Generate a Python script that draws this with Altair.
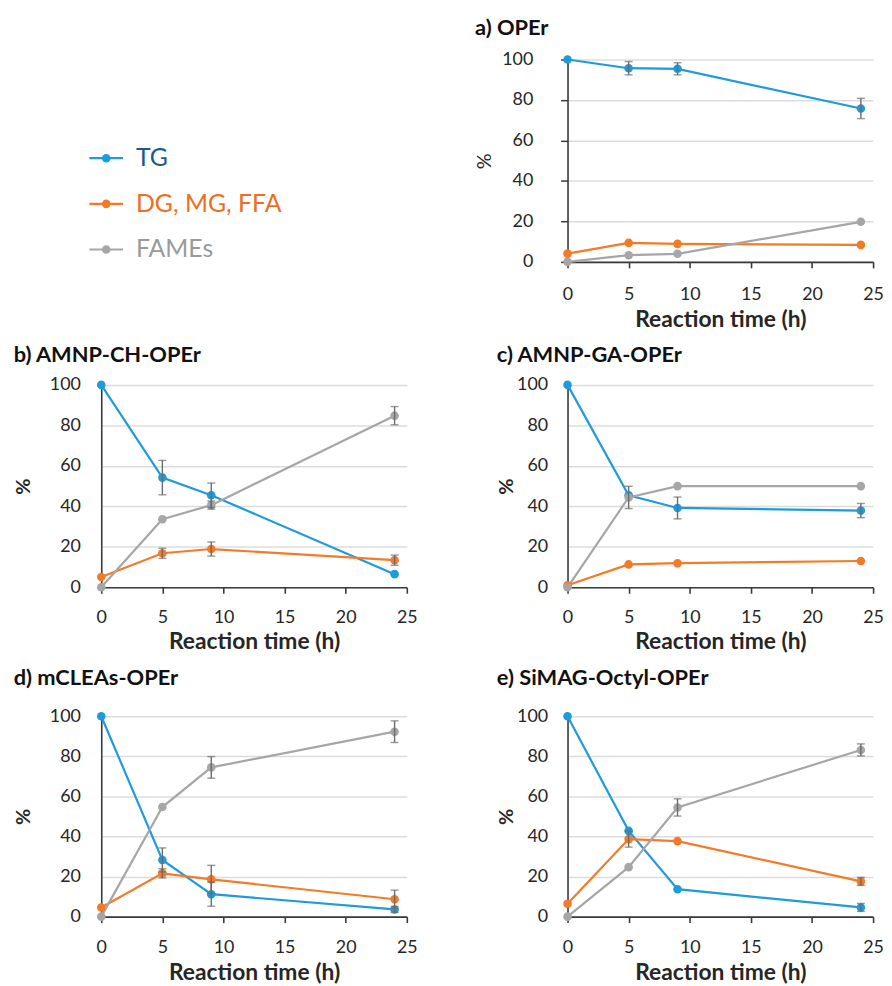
import altair as alt
import pandas as pd

# ---------------- data ----------------
times = [0, 5, 9, 24]
series = ["TG", "DG, MG, FFA", "FAMEs"]
panel_titles = ["a) OPEr", "b) AMNP-CH-OPEr", "c) AMNP-GA-OPEr",
                "d) mCLEAs-OPEr", "e) SiMAG-Octyl-OPEr"]

# a) OPEr
a_tg = [100, 95.7, 95.4, 75.8]
a_tg_err = [0, 3.3, 3.0, 5.0]
a_dg = [4.1, 9.4, 8.9, 8.4]
a_dg_err = [0, 0, 0, 0]
a_fame = [0, 3.3, 4.0, 19.8]
a_fame_err = [0, 0, 0, 0]

# b) AMNP-CH-OPEr
b_tg = [100, 54.2, 45.5, 6.5]
b_tg_err = [0, 8.5, 6.0, 0]
b_dg = [5.1, 16.8, 18.9, 13.4]
b_dg_err = [0, 2.5, 3.5, 2.5]
b_fame = [0, 33.6, 40.6, 84.8]
b_fame_err = [0, 0, 2.0, 4.5]

# c) AMNP-GA-OPEr
c_tg = [100, 45.5, 39.2, 37.9]
c_tg_err = [0, 0, 5.4, 3.5]
c_dg = [1.0, 11.3, 11.9, 13.0]
c_dg_err = [0, 0, 0, 0]
c_fame = [0, 44.4, 50.0, 50.0]
c_fame_err = [0, 5.5, 0, 0]

# d) mCLEAs-OPEr
d_tg = [100, 28.3, 11.2, 3.6]
d_tg_err = [0, 6.0, 6.0, 1.5]
d_dg = [4.6, 21.6, 18.6, 8.7]
d_dg_err = [0, 2.3, 7.0, 4.5]
d_fame = [0, 54.7, 74.5, 92.3]
d_fame_err = [0, 0, 5.4, 5.4]

# e) SiMAG-Octyl-OPEr
e_tg = [100, 42.8, 13.7, 4.6]
e_tg_err = [0, 0, 0, 2.0]
e_dg = [6.4, 38.7, 37.7, 17.6]
e_dg_err = [0, 4.0, 0, 2.0]
e_fame = [0, 24.7, 54.5, 83.2]
e_fame_err = [0, 0, 4.3, 3.0]

x_ticks = [0, 5, 10, 15, 20, 25]
y_ticks = [0, 20, 40, 60, 80, 100]

# ---------------- style ----------------
FONT = "Lato"
line_colors = ["#1E9BDB", "#F57A26", "#A6A6A6"]
legend_text_colors = ["#1A5B8C", "#EC6E1E", "#9A9A9A"]
ERR = "#6B6B6B"
AXIS = "#3A3A3A"
GRID = "#DCDCDC"
TXT = "#262626"


def make_df(tg, tg_e, dg, dg_e, fa, fa_e):
    rows = []
    for name, vals, errs in [(series[0], tg, tg_e), (series[1], dg, dg_e), (series[2], fa, fa_e)]:
        for t, v, e in zip(times, vals, errs):
            rows.append({"time": t, "value": v, "err": e, "series": name,
                         "lo": v - e, "hi": v + e})
    return pd.DataFrame(rows)


color_enc = alt.Color("series:N", scale=alt.Scale(domain=series, range=line_colors), legend=None)


def panel(df, title, title_offset, xlab_pad, xtitle_pad, ylab_pad, ytitle_pad, y_bold=True,
          ytick=0, w=308, h=204):
    base = alt.Chart(df)
    x = alt.X("time:Q", scale=alt.Scale(domain=[0, 25], nice=False),
              axis=alt.Axis(values=x_ticks, title="Reaction time (h)", grid=False,
                            domainColor=AXIS, domainWidth=1.6, tickColor=AXIS, tickWidth=1.6,
                            tickSize=6, labelFont=FONT, labelFontSize=18, labelColor=TXT,
                            labelPadding=xlab_pad, titleFont=FONT, titleFontSize=23,
                            titleFontWeight="bold", titleColor=TXT, titlePadding=xtitle_pad,
                            labelFlush=False))
    y = alt.Y("value:Q", scale=alt.Scale(domain=[0, 100], nice=False),
              axis=alt.Axis(values=y_ticks, title="%", grid=True, gridColor=GRID, gridWidth=1.5,
                            domainColor=AXIS, domainWidth=1.6, tickSize=ytick, tickColor=AXIS,
                            tickWidth=1.5,
                            labelFont=FONT, labelFontSize=18, labelColor=TXT,
                            labelPadding=ylab_pad,
                            titleFont=FONT, titleFontSize=20,
                            titleFontWeight="bold" if y_bold else "normal",
                            titleColor=TXT, titlePadding=ytitle_pad))
    lines = base.mark_line(strokeWidth=2.2).encode(x=x, y=y, color=color_enc)
    pts = base.mark_point(filled=True, size=75, opacity=1).encode(x=x, y=y, color=color_enc)
    eb = base.transform_filter("datum.err > 0")
    rule = eb.mark_rule(color=ERR, strokeWidth=1.4).encode(x="time:Q", y="lo:Q", y2="hi:Q")
    cap_lo = eb.mark_tick(orient="horizontal", size=8, thickness=1.4, color=ERR).encode(
        x="time:Q", y="lo:Q")
    cap_hi = eb.mark_tick(orient="horizontal", size=8, thickness=1.4, color=ERR).encode(
        x="time:Q", y="hi:Q")
    return alt.layer(lines, pts, rule, cap_lo, cap_hi).properties(
        width=w, height=h,
        title=alt.TitleParams(title, anchor="start", frame="bounds", offset=title_offset,
                              font=FONT, fontSize=22, fontWeight="bold", color="#111111"),
    )


# legend cell (its plot origin is aligned with panel b's plot origin)
leg_df = pd.DataFrame({"series": series})
leg_y = alt.Y("series:N", sort=series,
              scale=alt.Scale(domain=series, range=[76.5, 214.5]), axis=None)
leg_line = alt.Chart(leg_df).mark_rule(strokeWidth=2.2).encode(
    x=alt.value(-12), x2=alt.value(22), y=leg_y, color=color_enc)
leg_pt = alt.Chart(leg_df).mark_point(filled=True, size=75, opacity=1).encode(
    x=alt.value(5), y=leg_y, color=color_enc)
leg_txt = alt.Chart(leg_df).mark_text(align="left", baseline="middle", font=FONT,
                                      fontSize=25).encode(
    x=alt.value(35), y=leg_y, text="series:N",
    color=alt.Color("series:N", scale=alt.Scale(domain=series, range=legend_text_colors),
                    legend=None))
legend_cell = alt.layer(leg_line, leg_pt, leg_txt).resolve_scale(color="independent").properties(
    width=280, height=204)

pa = panel(make_df(a_tg, a_tg_err, a_dg, a_dg_err, a_fame, a_fame_err), panel_titles[0],
           title_offset=11, xlab_pad=18, xtitle_pad=5, ylab_pad=28, ytitle_pad=7,
           y_bold=False, ytick=7)
pb = panel(make_df(b_tg, b_tg_err, b_dg, b_dg_err, b_fame, b_fame_err), panel_titles[1],
           title_offset=9, xlab_pad=16, xtitle_pad=4, ylab_pad=21, ytitle_pad=16)
pc = panel(make_df(c_tg, c_tg_err, c_dg, c_dg_err, c_fame, c_fame_err), panel_titles[2],
           title_offset=9, xlab_pad=16, xtitle_pad=4, ylab_pad=20, ytitle_pad=0)
pd_ = panel(make_df(d_tg, d_tg_err, d_dg, d_dg_err, d_fame, d_fame_err), panel_titles[3],
            title_offset=18, xlab_pad=16, xtitle_pad=5, ylab_pad=21, ytitle_pad=16, h=202)
pe = panel(make_df(e_tg, e_tg_err, e_dg, e_dg_err, e_fame, e_fame_err), panel_titles[4],
           title_offset=18, xlab_pad=16, xtitle_pad=5, ylab_pad=20, ytitle_pad=0, h=202)

chart = alt.concat(legend_cell, pa, pb, pc, pd_, pe, columns=2,
                   spacing=alt.RowColnumber(row=13, column=57), align="each").properties(
    padding={"left": 5, "top": 5, "right": 0, "bottom": 0}
).configure(background="white", view=alt.ViewConfig(stroke=None))

chart.save("out.html", embed_options={"renderer": "svg", "actions": False})
